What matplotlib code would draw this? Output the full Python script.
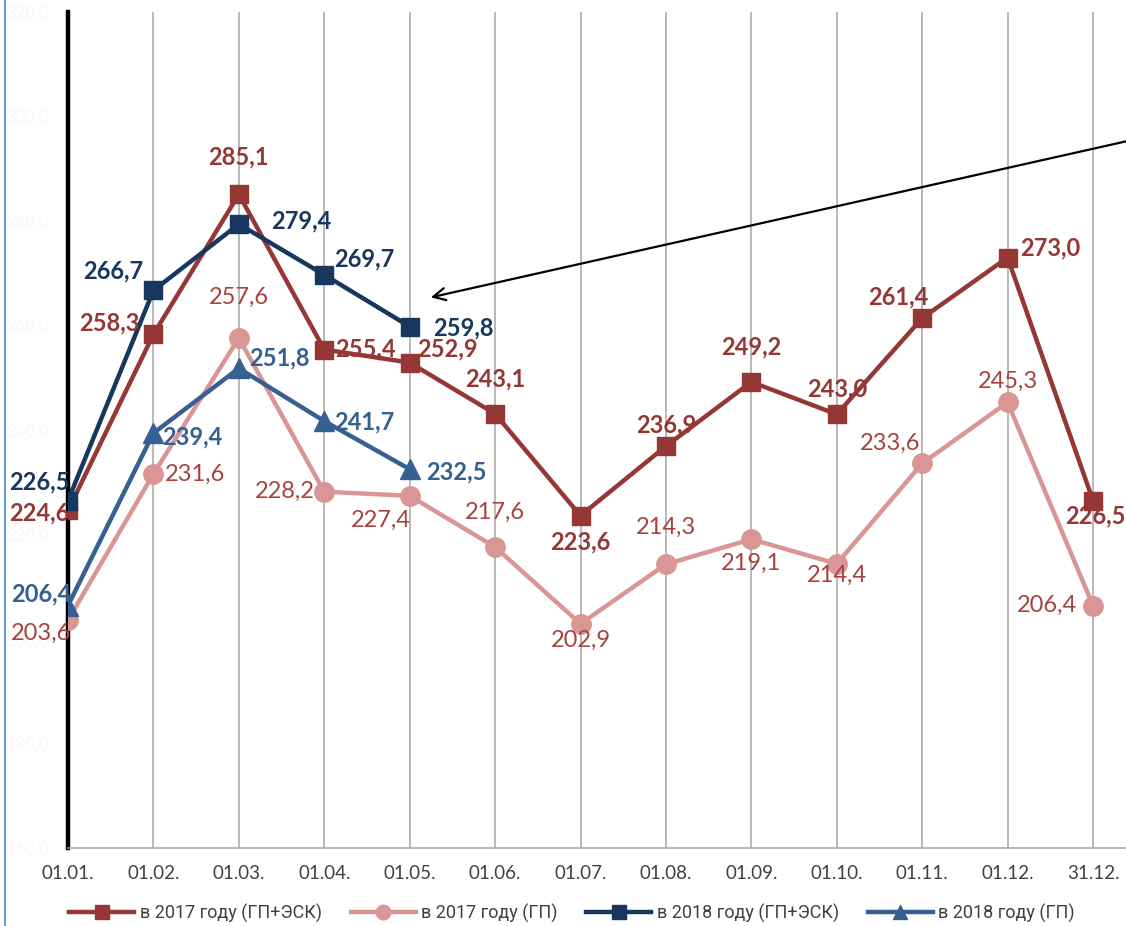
import matplotlib
matplotlib.use("Agg")
import matplotlib.pyplot as plt

# ---------------- data ----------------
dates = ["01.01.", "01.02.", "01.03.", "01.04.", "01.05.", "01.06.", "01.07.",
         "01.08.", "01.09.", "01.10.", "01.11.", "01.12.", "31.12."]
s2017_full = [224.6, 258.3, 285.1, 255.4, 252.9, 243.1, 223.6, 236.9, 249.2, 243.0, 261.4, 273.0, 226.5]
s2017_gp = [203.6, 231.6, 257.6, 228.2, 227.4, 217.6, 202.9, 214.3, 219.1, 214.4, 233.6, 245.3, 206.4]
s2018_full = [226.5, 266.7, 279.4, 269.7, 259.8]
s2018_gp = [206.4, 239.4, 251.8, 241.7, 232.5]
series_names = ["в 2017 году (ГП+ЭСК)", "в 2017 году (ГП)", "в 2018 году (ГП+ЭСК)", "в 2018 году (ГП)"]
y_ticks = [160, 180, 200, 220, 240, 260, 280, 300, 320]

# ---------------- layout / style ----------------
# label offsets (pixels, image orientation: +x right, +y down)
off_2017_full = [(-29, 2), (-44, -11), (0, -37), (41, -1), (38, -14), (0, -35), (0, 26),
                 (0, -21), (0, -35), (0, -25), (-24, -21), (43, -10), (2, 15)]
off_2017_gp = [(-27, 13), (42, 0), (0, -41), (-39, 0), (-29, 25), (0, -35), (0, 16),
               (0, -37), (0, 24), (0, 12), (-32, -20), (0, -21), (-46, 0)]
off_2018_full = [(-29, -19), (-40, -20), (62, -3), (40, -16), (54, 1)]
off_2018_gp = [(-27, -12), (39, 4), (41, -10), (40, 1), (47, 3)]

c_red = "#953735"
c_pink = "#DA9694"
c_pink_txt = "#A8423F"
c_navy = "#17375E"
c_blue = "#376092"

W, H = 1126, 926
fig = plt.figure(figsize=(W / 100, H / 100), dpi=100)
fig.patch.set_facecolor("white")

left_px, right_px, top_px, bot_px = 68, 1126, 12, 848
ax = fig.add_axes([left_px / W, 1 - bot_px / H, (right_px - left_px) / W, (bot_px - top_px) / H])
x_all = list(range(len(dates)))
xmax = 12 + (1126 - 1093) / 85.42
ax.set_xlim(0, xmax)
ax.set_ylim(160, 320)

# gridlines
for xi in x_all:
    ax.axvline(xi, color="#A6A6A6", lw=1.1, zorder=1)

for s in ["top", "right"]:
    ax.spines[s].set_visible(False)
ax.spines["left"].set_color("black")
ax.spines["left"].set_linewidth(3.2)
ax.spines["left"].set_zorder(2)
ax.spines["bottom"].set_color("#A6A6A6")
ax.spines["bottom"].set_linewidth(1.1)

ax.set_xticks(x_all)
ax.set_xticklabels(dates, fontsize=13.5, color="#404040", family=["Lato", "DejaVu Sans"])
ax.tick_params(axis="x", length=0, pad=12)
ax.set_yticks(y_ticks)
ax.set_yticklabels([f"{v:.1f}".replace(".", ",") for v in y_ticks], fontsize=12,
                   color="#FAF7F7", family=["Lato", "DejaVu Sans"])
ax.tick_params(axis="y", length=0, pad=14)

lw = 3.2
ax.plot(x_all, s2017_full, color=c_red, lw=lw, marker="s", ms=13.5, zorder=4, label=series_names[0])
ax.plot(x_all, s2017_gp, color=c_pink, lw=lw, marker="o", ms=14, zorder=3, label=series_names[1])
x18 = x_all[:len(s2018_full)]
ax.plot(x18, s2018_full, color=c_navy, lw=lw, marker="s", ms=13.5, zorder=6, label=series_names[2])
ax.plot(x18, s2018_gp, color=c_blue, lw=lw, marker="^", ms=14, zorder=5, label=series_names[3])


def fmt(v):
    return f"{v:.1f}".replace(".", ",")


def labels(xs, vals, offs, color, bold):
    for xi, v, (dx, dy) in zip(xs, vals, offs):
        ax.annotate(fmt(v), (xi, v), xytext=(dx, -dy), textcoords="offset pixels",
                    ha="center", va="center", fontsize=17, color=color,
                    fontweight="bold" if bold else "normal",
                    family=["Lato", "DejaVu Sans"], zorder=8, annotation_clip=False)


labels(x_all, s2017_full, off_2017_full, c_red, True)
labels(x_all, s2017_gp, off_2017_gp, c_pink_txt, False)
labels(x18, s2018_full, off_2018_full, c_navy, True)
labels(x18, s2018_gp, off_2018_gp, c_blue, True)

# arrow
fig_ax = fig.add_axes([0, 0, 1, 1], facecolor="none")
fig_ax.set_xlim(0, W)
fig_ax.set_ylim(H, 0)
fig_ax.axis("off")
fig_ax.annotate("", xy=(428, 298), xytext=(1190, 127),
                arrowprops=dict(arrowstyle="->", color="black", lw=1.6, mutation_scale=22))
# left border line
fig_ax.plot([5, 5], [0, H], color="#6C9BD2", lw=1.5)

# legend
leg = fig.legend(loc="center", bbox_to_anchor=(0.508, 1 - 913 / H), ncol=4, frameon=False,
                 prop={"family": ["Liberation Sans Narrow", "Roboto", "DejaVu Sans"], "size": 13},
                 handlelength=3.6, columnspacing=1.6, handletextpad=0.3, markerscale=0.75)
for t in leg.get_texts():
    t.set_color("#404040")

fig.savefig("out.png", dpi=100, facecolor="white")
